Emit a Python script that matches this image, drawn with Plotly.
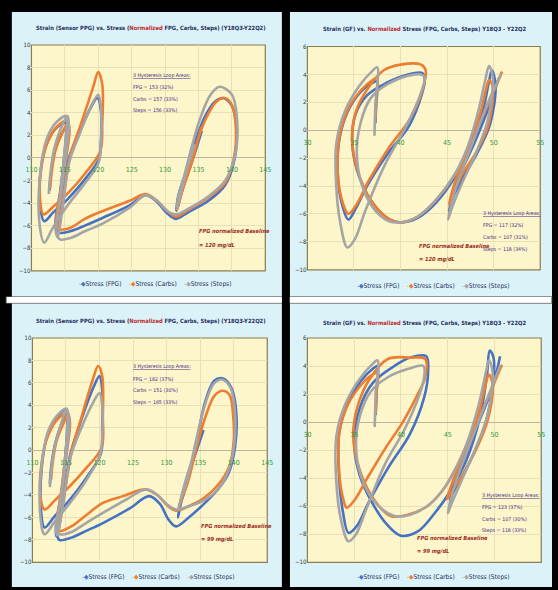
import plotly.graph_objects as go

W, H = 558, 590

# ---------------- DATA (x, y) ----------------
SERIES = ["Stress (FPG)", "Stress (Carbs)", "Stress (Steps)"]
COLORS = ["#4472C4", "#ED7D31", "#A5A5A5"]

# Top-left: Strain (Sensor PPG), baseline 120 mg/dL
TL_FPG = [(112.7,-2.9),(112.9,-1.5),(113.5,0.6),(114.5,2.1),(115.4,2.9),(115.6,2.3),(115.0,-0.5),(114.2,-3.8),(113.6,-5.8),(113.8,-6.5),(114.6,-4.0),(115.6,0.0),(117.0,2.0),(119.0,4.6),(119.9,5.3),(120.4,4.2),(120.4,1.5),(120.1,-0.1),(118.0,-1.9),(115.5,-3.6),(113.3,-4.8),(111.9,-5.6),(111.3,-4.2),(111.4,-1.0),(112.4,1.4),(113.8,2.7),(115.3,3.1),(115.2,2.0),(114.3,-3.0),(113.6,-5.9),(114.0,-6.6),(115.8,-6.5),(118.0,-6.0),(120.7,-5.3),(124.7,-4.2),(127.1,-3.3),(128.8,-3.9),(130.3,-4.9),(131.6,-5.4),(133.5,-4.8),(136.5,-3.8),(139.0,-2.4),(140.4,-0.1),(140.7,2.5),(140.0,4.6),(138.7,5.3),(137.5,5.0),(136.0,3.7),(134.5,1.4),(133.3,-1.0),(132.0,-3.3),(131.7,-4.7),(132.5,-3.0),(134.0,-0.4),(135.5,2.4)]
TL_CARBS = [(112.8,-2.7),(113.0,-1.4),(113.6,0.7),(114.6,2.2),(115.5,3.1),(115.7,2.4),(115.1,-0.3),(114.3,-3.6),(113.7,-5.7),(113.9,-6.3),(114.7,-3.8),(115.8,0.2),(117.3,2.8),(119.2,6.2),(120.0,7.6),(120.6,6.5),(120.6,3.0),(120.3,0.6),(118.0,-1.4),(115.5,-3.1),(113.3,-4.3),(111.8,-5.0),(111.3,-3.8),(111.5,-0.8),(112.5,1.5),(113.9,2.8),(115.4,3.3),(115.3,2.1),(114.4,-2.8),(113.7,-5.7),(114.1,-6.3),(115.8,-6.2),(118.0,-5.4),(120.7,-4.7),(124.7,-3.8),(127.1,-3.2),(128.8,-3.8),(130.3,-4.7),(131.6,-5.2),(133.5,-4.6),(136.5,-3.5),(139.0,-2.2),(140.3,0.0),(140.6,2.6),(140.0,4.7),(138.9,5.3),(137.7,5.0),(136.2,3.6),(134.7,1.3),(133.4,-1.0),(132.1,-3.2),(131.8,-4.6),(132.6,-2.9),(134.1,-0.2),(135.4,2.7)]
TL_STEPS = [(112.6,-3.2),(112.8,-1.6),(113.4,0.8),(114.4,2.6),(115.4,3.7),(115.6,2.8),(115.0,-0.6),(114.2,-4.2),(113.6,-6.3),(113.9,-7.0),(114.7,-4.3),(115.7,-0.3),(117.2,2.1),(119.1,4.8),(120.0,5.6),(120.4,4.4),(120.4,1.2),(120.0,-0.5),(117.8,-2.4),(115.3,-4.3),(113.2,-6.2),(111.9,-7.5),(111.2,-5.8),(111.3,-1.5),(112.3,1.7),(113.8,3.2),(115.3,3.7),(115.2,2.3),(114.3,-3.4),(113.7,-6.5),(114.2,-7.2),(115.8,-7.1),(118.0,-6.5),(120.7,-5.8),(124.7,-4.4),(127.1,-3.3),(128.8,-3.8),(130.3,-4.7),(131.6,-5.0),(133.5,-4.5),(136.5,-3.4),(139.0,-2.0),(140.5,0.3),(140.8,3.2),(140.0,5.6),(138.2,6.3),(136.8,5.6),(135.2,3.4),(134.0,1.0),(133.0,-1.3),(132.0,-3.4),(131.8,-4.5),(132.6,-2.6),(133.6,-0.4),(134.5,1.2)]

# Top-right: Strain (GF), baseline 120 mg/dL
TR_FPG = [(37.3,0.5),(37.4,2.0),(37.5,3.5),(37.0,3.4),(35.8,2.8),(34.3,1.3),(33.4,-0.8),(33.3,-3.6),(33.8,-5.5),(34.4,-6.4),(35.2,-5.6),(36.4,-4.0),(38.6,-1.7),(40.9,0.3),(42.3,2.6),(42.6,3.7),(42.3,4.1),(40.8,4.0),(38.5,3.4),(36.4,2.5),(35.2,1.2),(34.8,-0.6),(35.3,-2.8),(36.8,-5.0),(38.6,-6.3),(40.0,-6.6),(41.8,-6.3),(43.8,-5.2),(45.8,-3.4),(47.4,-1.3),(48.8,1.3),(49.5,3.5),(49.8,4.3),(50.2,3.2),(49.6,0.4),(48.1,-1.8),(46.7,-3.4),(45.5,-5.0),(45.2,-5.8),(46.0,-3.8),(48.0,-0.8),(49.4,1.5),(50.6,3.8)]
TR_CARBS = [(37.3,0.8),(37.4,2.3),(37.5,3.75),(37.0,3.6),(35.8,2.9),(34.3,1.4),(33.4,-0.7),(33.3,-3.4),(33.8,-5.2),(34.4,-6.0),(35.3,-5.3),(36.6,-3.6),(38.8,-1.2),(41.0,0.8),(42.4,3.0),(42.7,4.3),(42.2,4.7),(40.0,4.7),(38.2,4.3),(36.4,2.9),(35.2,1.3),(34.8,-0.6),(35.3,-2.7),(36.8,-5.0),(38.6,-6.3),(40.0,-6.6),(41.8,-6.2),(43.8,-5.0),(45.8,-3.2),(47.4,-1.0),(48.6,1.3),(49.2,3.0),(49.5,3.6),(49.9,3.1),(49.4,0.3),(48.1,-1.6),(46.6,-3.2),(45.5,-4.8),(45.2,-5.3),(46.0,-3.4),(47.8,-0.6),(49.5,2.0),(50.9,4.2)]
TR_STEPS = [(37.2,-0.4),(37.3,1.8),(37.5,4.5),(36.9,4.2),(35.6,3.2),(34.0,1.3),(33.1,-1.0),(33.1,-4.0),(33.5,-6.5),(34.3,-8.4),(35.1,-7.8),(36.2,-5.8),(38.3,-2.5),(40.7,0.4),(42.2,2.7),(42.6,3.8),(42.2,4.0),(40.8,3.9),(38.6,3.3),(36.8,2.3),(35.7,0.5),(35.3,-1.6),(35.8,-3.8),(37.1,-5.6),(38.7,-6.5),(40.0,-6.6),(41.8,-6.2),(43.8,-5.0),(45.8,-3.2),(47.2,-1.2),(48.4,1.5),(49.1,3.6),(49.5,4.6),(49.9,3.8),(49.4,0.8),(48.0,-1.8),(46.6,-3.8),(45.5,-5.6),(45.1,-6.4),(45.9,-4.2),(47.8,-0.8),(49.4,2.0),(50.8,4.0)]

# Bottom-left: Strain (Sensor PPG), baseline 99 mg/dL
BL_FPG = [(112.6,-3.0),(112.8,-1.5),(113.4,0.6),(114.3,2.3),(115.1,3.5),(115.4,2.7),(115.0,-0.5),(114.2,-4.2),(113.5,-6.9),(113.6,-7.7),(114.5,-4.8),(115.6,-0.5),(117.0,2.2),(119.1,5.6),(120.0,6.6),(120.4,5.4),(120.4,2.0),(120.2,-0.3),(118.0,-2.5),(115.6,-4.4),(113.3,-5.9),(111.8,-6.9),(111.3,-5.5),(111.4,-1.5),(112.3,1.5),(113.7,3.0),(115.1,3.6),(115.2,2.2),(114.4,-3.5),(113.6,-7.0),(114.0,-8.0),(115.8,-7.8),(118.0,-7.2),(120.5,-6.5),(124.5,-5.2),(127.4,-4.1),(129.0,-4.8),(130.3,-6.2),(131.4,-6.8),(133.3,-6.0),(135.2,-5.0),(137.5,-3.6),(139.2,-2.1),(140.2,0.3),(140.4,3.2),(139.7,5.5),(138.4,6.4),(137.1,6.2),(135.6,4.0),(134.3,0.0),(133.0,-3.0),(132.0,-5.0),(131.7,-6.0),(132.6,-3.5),(134.2,-0.5),(135.5,1.8)]
BL_CARBS = [(112.8,-2.6),(113.0,-1.2),(113.6,0.8),(114.5,2.2),(115.3,3.2),(115.6,2.5),(115.1,-0.3),(114.3,-3.8),(113.6,-6.4),(113.8,-7.2),(114.7,-4.3),(115.8,-0.2),(117.3,2.9),(119.0,6.3),(119.8,7.5),(120.4,6.6),(120.5,3.0),(120.3,0.2),(118.0,-1.6),(115.6,-3.2),(113.3,-4.5),(111.8,-5.3),(111.2,-4.2),(111.4,-1.0),(112.4,1.4),(113.8,2.8),(115.3,3.3),(115.3,2.0),(114.4,-3.2),(113.7,-6.6),(114.1,-7.2),(115.8,-6.8),(118.0,-5.8),(120.5,-4.7),(123.5,-4.1),(126.9,-3.5),(128.6,-4.0),(130.2,-5.0),(131.4,-5.4),(133.3,-5.0),(135.5,-4.3),(137.8,-3.0),(139.3,-1.5),(140.0,0.8),(139.9,3.2),(139.4,4.9),(138.4,5.3),(137.2,4.9),(135.8,3.0),(134.5,0.3),(133.2,-2.8),(132.0,-4.8),(131.8,-5.2),(132.7,-3.2),(134.0,-0.6),(135.2,2.2)]
BL_STEPS = [(112.6,-3.3),(112.8,-1.8),(113.4,0.5),(114.3,2.4),(115.1,3.6),(115.5,2.7),(115.0,-0.6),(114.2,-4.3),(113.5,-6.9),(113.7,-7.6),(114.6,-4.6),(115.7,-0.6),(117.1,1.7),(119.1,4.3),(120.0,5.1),(120.4,4.0),(120.4,1.3),(120.1,-0.4),(117.9,-2.8),(115.6,-4.7),(113.3,-6.4),(111.8,-7.5),(111.2,-6.0),(111.3,-1.8),(112.3,1.6),(113.7,3.1),(115.1,3.7),(115.2,2.2),(114.4,-3.6),(113.7,-6.9),(114.1,-7.5),(115.8,-7.3),(118.0,-6.5),(120.5,-5.6),(124.0,-4.4),(126.9,-3.5),(128.6,-4.0),(130.2,-4.9),(131.4,-5.3),(133.3,-5.0),(135.5,-4.5),(137.8,-3.4),(139.3,-1.7),(140.1,0.6),(140.2,3.4),(139.5,5.6),(138.2,6.3),(137.0,5.9),(135.5,3.6),(134.3,0.6),(133.1,-2.6),(132.0,-4.6),(131.8,-5.1),(132.6,-3.2),(133.7,-1.0),(134.6,1.0)]

# Bottom-right: Strain (GF), baseline 99 mg/dL
BR_FPG = [(37.3,0.5),(37.4,2.2),(37.5,4.0),(37.0,3.8),(35.8,3.0),(34.3,1.3),(33.4,-0.8),(33.4,-4.0),(33.8,-6.4),(34.4,-7.9),(35.3,-7.4),(36.5,-5.8),(38.6,-3.3),(41.0,-0.8),(42.5,1.8),(42.9,3.5),(42.7,4.7),(41.0,4.6),(39.3,4.0),(37.0,2.8),(35.6,1.0),(35.0,-1.5),(35.6,-3.8),(36.8,-5.6),(38.5,-7.3),(40.0,-8.1),(41.8,-7.8),(43.6,-6.5),(45.2,-5.0),(47.0,-2.7),(48.5,0.5),(49.2,3.4),(49.5,5.1),(49.9,4.6),(49.7,2.0),(48.7,-0.8),(47.0,-3.3),(45.6,-5.0),(45.2,-5.6),(46.2,-3.5),(48.2,-0.2),(49.8,2.5),(50.6,4.7)]
BR_CARBS = [(37.3,0.6),(37.4,2.1),(37.5,3.5),(37.0,3.4),(35.8,2.7),(34.3,1.2),(33.4,-0.8),(33.4,-3.6),(33.8,-5.4),(34.2,-6.1),(35.0,-5.6),(36.4,-4.0),(38.4,-1.8),(40.2,0.0),(41.8,2.0),(42.6,3.2),(42.6,4.5),(41.0,4.6),(38.6,4.5),(36.6,3.0),(35.4,1.2),(34.9,-0.8),(35.4,-3.0),(36.9,-5.3),(38.9,-6.7),(40.8,-6.6),(42.8,-6.0),(44.3,-5.0),(45.2,-4.1),(46.8,-2.0),(48.3,0.6),(49.1,2.8),(49.4,3.4),(49.8,2.7),(49.3,0.2),(48.0,-2.0),(46.4,-4.0),(45.2,-5.2),(44.9,-5.5),(45.9,-3.6),(47.8,-0.6),(49.6,2.2),(50.8,4.1)]
BR_STEPS = [(37.2,-0.35),(37.3,2.0),(37.5,4.4),(36.9,4.1),(35.6,3.1),(34.0,1.2),(33.1,-1.0),(33.1,-4.3),(33.6,-7.0),(34.4,-8.5),(35.2,-8.0),(36.3,-6.2),(38.3,-3.0),(40.4,-0.5),(42.0,2.0),(42.5,3.3),(42.4,4.0),(40.8,3.8),(38.6,3.2),(36.8,2.2),(35.6,0.4),(35.2,-1.6),(35.7,-3.8),(37.2,-5.7),(39.3,-6.7),(41.0,-6.6),(42.8,-6.0),(44.3,-5.0),(45.5,-3.8),(47.0,-1.6),(48.3,1.2),(49.1,3.6),(49.4,4.4),(49.8,3.6),(49.3,0.6),(47.9,-2.0),(46.4,-4.3),(45.3,-6.0),(45.0,-6.5),(45.8,-4.4),(47.7,-1.0),(49.3,1.8),(50.6,4.0)]

TITLE_PPG = ("Strain (Sensor PPG) vs. Stress (", "Normalized", " FPG, Carbs, Steps) (Y18Q3-Y22Q2)")
TITLE_GF = ("Strain (GF) vs. ", "Normalized", " Stress (FPG, Carbs, Steps) Y18Q3 - Y22Q2")
AREAS_TL = ["FPG = 153 (32%)", "Carbs = 157 (33%)", "Steps = 156 (33%)"]
AREAS_TR = ["FPG = 117 (32%)", "Carbs = 107 (31%)", "Steps = 118 (34%)"]
AREAS_BL = ["FPG = 182 (37%)", "Carbs = 151 (30%)", "Steps = 165 (33%)"]
AREAS_BR = ["FPG = 123 (37%)", "Carbs = 107 (30%)", "Steps = 118 (33%)"]
BASE_TOP = "= 120 mg/dL"
BASE_BOT = "= 99 mg/dL"

# ---------------- LAYOUT ----------------
FONT = "DejaVu Sans Condensed, Liberation Sans Narrow, Liberation Sans, sans-serif"
NAVY = "#1f2d5c"
RED = "#c0262c"
PURPLE = "#3d2a86"
BASERED = "#9c2a22"

def fx(px):
    return px / W

def fy(py):
    return 1 - py / H

panels = [
    dict(data=[TL_FPG, TL_CARBS, TL_STEPS], box=(26, 265, 41.5, 270), xr=[110, 145], yr=[-10, 10], dt=5,
         bg=(6, 282, 8, 296), title=TITLE_PPG, areas=AREAS_TL, area_xy=(128, 72), base=BASE_TOP, base_xy=(195, 230),
         legend_xy=(152, 283), title_xy=(148, 25)),
    dict(data=[TR_FPG, TR_CARBS, TR_STEPS], box=(308, 546, 43, 269), xr=[30, 55], yr=[-10, 6], dt=5,
         bg=(290, 558, 8, 296), title=TITLE_GF, areas=AREAS_TR, area_xy=(485, 212), base=BASE_TOP, base_xy=(420, 245),
         legend_xy=(436, 285), title_xy=(428, 26)),
    dict(data=[BL_FPG, BL_CARBS, BL_STEPS], box=(27, 267, 338, 565), xr=[110, 145], yr=[-10, 10], dt=5,
         bg=(6, 282, 303, 590), title=TITLE_PPG, areas=AREAS_BL, area_xy=(128, 367), base=BASE_BOT, base_xy=(197, 528),
         legend_xy=(155, 580), title_xy=(148, 321)),
    dict(data=[BR_FPG, BR_CARBS, BR_STEPS], box=(308, 547, 338, 565), xr=[30, 55], yr=[-10, 6], dt=5,
         bg=(290, 558, 303, 590), title=TITLE_GF, areas=AREAS_BR, area_xy=(484, 497), base=BASE_BOT, base_xy=(418, 540),
         legend_xy=(436, 580), title_xy=(428, 323)),
]

fig = go.Figure()
shapes = []
annotations = []

# separator strip between the top and bottom rows
shapes.append(dict(type="rect", xref="paper", yref="paper", x0=0, x1=1, y0=fy(303), y1=fy(296),
                   fillcolor="#ffffff", line=dict(color="#333333", width=1), layer="below"))

for i, p in enumerate(panels):
    n = "" if i == 0 else str(i + 1)
    l, r, t, b = p["box"]
    bl_, br_, bt_, bb_ = p["bg"]
    shapes.append(dict(type="rect", xref="paper", yref="paper", x0=fx(bl_), x1=fx(br_), y0=fy(bb_), y1=fy(bt_),
                       fillcolor="#dbf3f8", line=dict(width=0), layer="below"))
    shapes.append(dict(type="rect", xref="paper", yref="paper", x0=fx(l), x1=fx(r), y0=fy(b), y1=fy(t),
                       fillcolor="#fdf6cb", line=dict(color="#8c7c4e", width=1.2), layer="below"))

    ymin, ymax = p["yr"]
    zero_frac = (0 - ymin) / (ymax - ymin)
    y_dom = [fy(b), fy(t)]
    x_pos = y_dom[0] + zero_frac * (y_dom[1] - y_dom[0])

    fig.layout["xaxis" + n] = dict(
        domain=[fx(l), fx(r)], range=p["xr"], dtick=p["dt"], anchor="free", position=x_pos,
        showgrid=True, gridcolor="#e9e1b6", gridwidth=1, zeroline=False, showline=False,
        ticks="outside", ticklen=5, tickcolor="rgba(0,0,0,0)",
        tickfont=dict(family=FONT, size=7, color="#2e9a3a"), fixedrange=True,
    )
    fig.layout["yaxis" + n] = dict(
        domain=y_dom, range=p["yr"], dtick=2, anchor="x" + n,
        showgrid=True, gridcolor="#e9e1b6", gridwidth=1, zeroline=True, zerolinecolor="#bdb79a", zerolinewidth=1,
        showline=False, ticks="", tickfont=dict(family=FONT, size=6, color="#333333"), fixedrange=True,
    )

    for k in range(3):
        pts = p["data"][k]
        fig.add_trace(go.Scatter(
            x=[q[0] for q in pts], y=[q[1] for q in pts], mode="lines", name=SERIES[k],
            line=dict(color=COLORS[k], width=2.6, shape="spline", smoothing=1.0),
            xaxis="x" + n, yaxis="y" + n, showlegend=False, hoverinfo="skip",
        ))

    t1, t2, t3 = p["title"]
    annotations.append(dict(
        xref="paper", yref="paper", x=fx(p["title_xy"][0]), y=fy(p["title_xy"][1]), xanchor="center", yanchor="middle",
        text=f"<b>{t1}<span style='color:{RED}'>{t2}</span>{t3}</b>", showarrow=False,
        font=dict(family=FONT, size=5.8, color=NAVY)))

    ax, ay = p["area_xy"]
    lines = ["<u>3 Hysteresis Loop Areas:</u>"] + p["areas"]
    for j, txt in enumerate(lines):
        annotations.append(dict(
            xref="paper", yref="paper", x=fx(ax), y=fy(ay + j * 12), xanchor="left", yanchor="middle",
            text=txt, showarrow=False, font=dict(family=FONT, size=5.2, color=PURPLE)))

    bx, by = p["base_xy"]
    for j, txt in enumerate(["FPG normalized Baseline", p["base"]]):
        annotations.append(dict(
            xref="paper", yref="paper", x=fx(bx), y=fy(by + j * 14), xanchor="left", yanchor="middle",
            text=f"<b><i>{txt}</i></b>", showarrow=False, font=dict(family=FONT, size=5.6, color=BASERED)))

    parts = []
    for k in range(3):
        parts.append(f"<span style='color:{COLORS[k]}'>-◆</span>{SERIES[k]}")
    annotations.append(dict(
        xref="paper", yref="paper", x=fx(p["legend_xy"][0]), y=fy(p["legend_xy"][1]), xanchor="center",
        yanchor="middle", text="    ".join(parts), showarrow=False,
        font=dict(family=FONT, size=6.5, color=NAVY)))

# black divider between left and right columns
shapes.append(dict(type="rect", xref="paper", yref="paper", x0=fx(282), x1=fx(290), y0=0, y1=1,
                   fillcolor="#000000", line=dict(width=0), layer="below"))

fig.update_layout(
    width=W, height=H, autosize=False,
    margin=dict(l=0, r=0, t=0, b=0),
    paper_bgcolor="#000000", plot_bgcolor="rgba(0,0,0,0)",
    shapes=shapes, annotations=annotations, showlegend=False,
    font=dict(family=FONT),
)

fig.write_html("out.html", config={"displayModeBar": False, "staticPlot": True},
               post_script="document.body.style.margin='0';document.body.style.overflow='hidden';")
